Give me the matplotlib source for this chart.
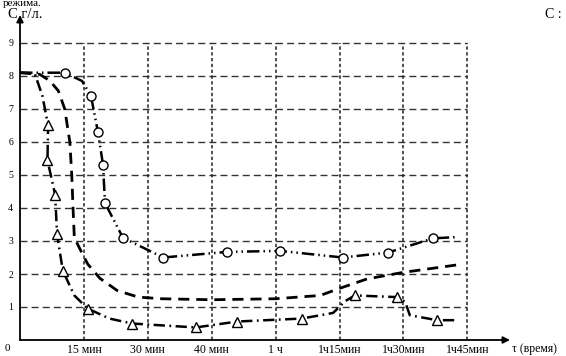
import matplotlib
matplotlib.use("Agg")
import matplotlib.pyplot as plt

plt.rcParams['font.family'] = ['Liberation Serif', 'DejaVu Serif']

# ========== DATA ========== #
x_ticks = [1, 2, 3, 4, 5, 6, 7]
x_labels = ["15 мин", "30 мин", "40 мин", "1 ч", "1ч15мин", "1ч30мин", "1ч45мин"]
y_ticks = [1, 2, 3, 4, 5, 6, 7, 8, 9]

# curve with circles
circ_t = [0, 0.30, 0.70, 0.97, 1.11, 1.22, 1.30, 1.33, 1.61, 2.24, 3.24, 4.07, 5.05, 5.76, 6.46, 6.85]
circ_c = [8.1, 8.1, 8.1, 7.85, 7.4, 6.3, 5.3, 4.15, 3.1, 2.5, 2.67, 2.7, 2.5, 2.65, 3.08, 3.12]
circ_marks = [2, 4, 5, 6, 7, 8, 9, 10, 11, 12, 13, 14]

# dashed curve, no markers
dash_t = [0, 0.31, 0.47, 0.60, 0.70, 0.78, 0.81, 0.83, 0.85, 0.94, 1.06, 1.25, 1.52, 1.85,
          2.22, 3.0, 4.0, 4.7, 4.98, 5.43, 6.0, 6.93]
dash_c = [8.1, 8.05, 7.85, 7.55, 7.0, 6.0, 5.0, 4.0, 3.1, 2.75, 2.3, 1.87, 1.5, 1.3,
          1.25, 1.22, 1.25, 1.35, 1.55, 1.85, 2.05, 2.3]

# curve with triangles
tri_t = [0, 0.23, 0.35, 0.44, 0.43, 0.55, 0.58, 0.67, 0.85, 1.06, 1.4, 1.75, 2.75, 3.4,
         4.41, 4.9, 5.09, 5.24, 5.9, 6.03, 6.1, 6.53, 6.85]
tri_c = [8.1, 8.08, 7.4, 6.5, 5.45, 4.4, 3.2, 2.1, 1.35, 0.95, 0.65, 0.5, 0.38, 0.56,
         0.65, 0.82, 1.18, 1.35, 1.3, 1.15, 0.75, 0.6, 0.6]
tri_marks = [3, 4, 5, 6, 7, 9, 11, 12, 13, 14, 17, 18, 21]

# ========== FIGURE ========== #
W, H = 566, 356
fig = plt.figure(figsize=(W / 100, H / 100), dpi=100)
ax = fig.add_axes([20 / W, 16 / H, 490 / W, 325 / H])
ax.set_xlim(0, 490 / 63.9)
ax.set_ylim(0, 325 / 33.0)
for s in ax.spines.values():
    s.set_visible(False)

# grid
ax.hlines(y_ticks, 0, 7, colors='#333333', linestyles=(0, (5, 3)), lw=1.0, zorder=1)
ax.vlines(x_ticks, 0, 9, colors='#222222', linestyles=(0, (2.2, 1.6)), lw=1.1, zorder=1)

# axes with arrows
ax.annotate('', xy=(490 / 63.9, 0), xytext=(0, 0), annotation_clip=False,
            arrowprops=dict(arrowstyle='-|>', color='k', lw=1.3, mutation_scale=10,
                            shrinkA=0, shrinkB=0))
ax.annotate('', xy=(0, 325 / 33.0), xytext=(0, 0), annotation_clip=False,
            arrowprops=dict(arrowstyle='-|>', color='k', lw=1.3, mutation_scale=10,
                            shrinkA=0, shrinkB=0))

# curves
ax.plot(dash_t, dash_c, color='k', lw=2.0, linestyle=(0, (4, 2.5)), zorder=3)
ax.plot(circ_t, circ_c, color='k', lw=1.8, linestyle=(0, (5, 1.6, 0.6, 1.6, 0.6, 1.6)),
        marker='o', markevery=circ_marks, ms=6.5, mfc='white', mec='k', mew=1.0, zorder=4)
ax.plot(tri_t, tri_c, color='k', lw=1.8, linestyle=(0, (4.5, 1.8, 0.7, 1.8)),
        marker='^', markevery=tri_marks, ms=6.5, mfc='white', mec='k', mew=1.0, zorder=4)

# ticks
ax.set_xticks(x_ticks, x_labels, fontsize=8.5)
ax.set_yticks(y_ticks, [str(v) for v in y_ticks], fontsize=7)
ax.tick_params(axis='both', length=0)
ax.tick_params(axis='x', pad=3)
ax.tick_params(axis='y', pad=5)
ax.text(-0.2, -0.27, "0", fontsize=8, ha='center', va='center', clip_on=False)

fig.text(512 / W, 1 - 349 / H, "τ (время)", fontsize=8.5, ha='left', va='center')
fig.text(8 / W, 1 - 15 / H, "С г/л.", fontsize=10.5, ha='left', va='center')
fig.text(545 / W, 1 - 15 / H, "С :", fontsize=10, ha='left', va='center')
fig.text(3 / W, 1 - 4 / H, "режима.", fontsize=8, ha='left', va='center')

fig.savefig("out.png", dpi=100)
